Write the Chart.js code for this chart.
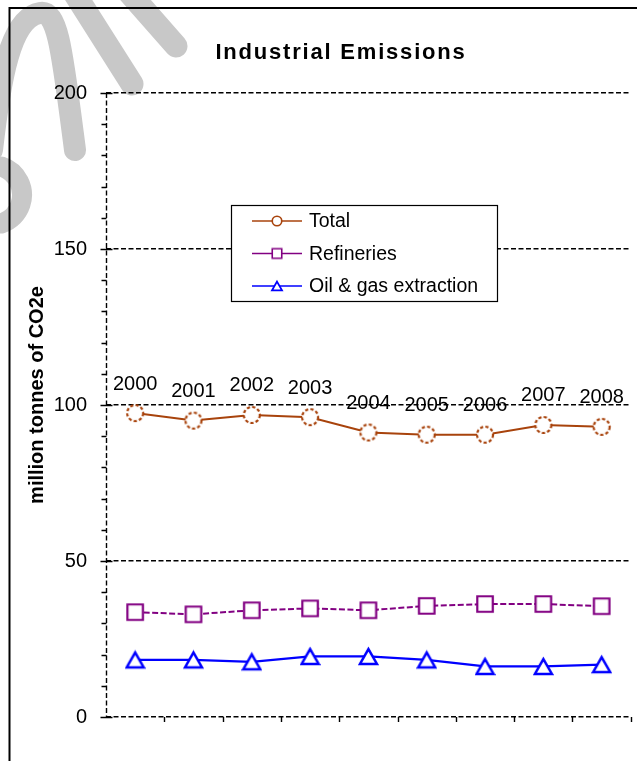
<!DOCTYPE html>
<html>
<head>
<meta charset="utf-8">
<title>Industrial Emissions</title>
<script src="https://cdn.jsdelivr.net/npm/chart.js@4/dist/chart.umd.min.js"></script>
<style>
  html, body { margin: 0; padding: 0; background: #ffffff; }
  #wrap { width: 637px; height: 761px; position: relative; }
</style>
</head>
<body>
<div id="wrap"><canvas id="chart" width="637" height="761"></canvas></div>
<script>
// Years shown along the series
const categories = ['2000', '2001', '2002', '2003', '2004', '2005', '2006', '2007', '2008'];

// Emissions, million tonnes of CO2e
const totalValues      = [97.4, 95.0, 96.8, 96.1, 91.2, 90.5, 90.5, 93.6, 93.0];
const refineryValues   = [33.6, 32.9, 34.2, 34.8, 34.2, 35.6, 36.2, 36.2, 35.5];
const extractionValues = [18.3, 18.3, 17.7, 19.4, 19.4, 18.3, 16.2, 16.2, 16.8];

// Value axis
const yTicks = [0, 50, 100, 150, 200];
const yMinorStep = 10;

const seriesNames = ['Total', 'Refineries', 'Oil & gas extraction'];
const FONT = '"Liberation Sans", Arial, Helvetica, sans-serif';

const COLOR_TOTAL = '#a8430c';
const COLOR_REF = '#820082';
const COLOR_OIL = '#0000ff';

// Marker images (centred on their bounding box)
function makeMarker(kind, size, color, opts) {
  opts = opts || {};
  const c = document.createElement('canvas');
  const w = Math.ceil(size + 4), h = Math.ceil(size + 4);
  c.width = w; c.height = h;
  const g = c.getContext('2d');
  g.lineWidth = opts.lineWidth || 2;
  g.strokeStyle = color;
  g.fillStyle = '#ffffff';
  if (opts.dash) g.setLineDash(opts.dash);
  g.beginPath();
  const cx = w / 2, cy = h / 2, r = size / 2;
  if (kind === 'circle') {
    g.arc(cx, cy, r, 0, Math.PI * 2);
  } else if (kind === 'square') {
    g.rect(cx - r, cy - r, size, size);
  } else {
    const th = size * 0.88;
    g.moveTo(cx, cy - th / 2);
    g.lineTo(cx + r, cy + th / 2);
    g.lineTo(cx - r, cy + th / 2);
    g.closePath();
  }
  g.fill();
  g.stroke();
  return c;
}

const markTotal = makeMarker('circle', 16, COLOR_TOTAL, { dash: [3.2, 2.2], lineWidth: 2.2 });
const markRef = makeMarker('square', 15.5, COLOR_REF, { lineWidth: 2.2 });
const markOil = makeMarker('triangle', 17, COLOR_OIL, { lineWidth: 2.5 });

const legendMarks = [
  makeMarker('circle', 9.5, COLOR_TOTAL, { lineWidth: 1.6 }),
  makeMarker('square', 9.5, COLOR_REF, { lineWidth: 1.6 }),
  makeMarker('triangle', 10, COLOR_OIL, { lineWidth: 1.8 })
];
const legendColors = [COLOR_TOTAL, COLOR_REF, COLOR_OIL];

// Background and the light grey strokes behind the chart
const backdrop = {
  id: 'backdrop',
  beforeDraw(chart) {
    const ctx = chart.ctx;
    ctx.save();
    ctx.fillStyle = '#ffffff';
    ctx.fillRect(0, 0, chart.width, chart.height);
    ctx.strokeStyle = '#c8c8c8';
    ctx.lineCap = 'round';
    ctx.lineJoin = 'round';
    ctx.lineWidth = 22;
    ctx.beginPath();
    ctx.moveTo(-8, 150);
    ctx.bezierCurveTo(0, 80, 10, 18, 40, 13);
    ctx.bezierCurveTo(58, 10, 62, 50, 75, 150);
    ctx.stroke();
    ctx.lineWidth = 23;
    ctx.beginPath();
    ctx.moveTo(66, -20);
    ctx.lineTo(132, 84);
    ctx.stroke();
    ctx.beginPath();
    ctx.moveTo(118, -20);
    ctx.lineTo(176, 46);
    ctx.stroke();
    ctx.lineWidth = 20;
    ctx.beginPath();
    ctx.arc(-8, 195, 30, -1.25, 1.25);
    ctx.stroke();
    ctx.restore();
  }
};

// Dashed value axis, major/minor tick marks and category separators
const axisMarks = {
  id: 'axisMarks',
  beforeDatasetsDraw(chart) {
    const ctx = chart.ctx;
    const y = chart.scales.y, x = chart.scales.x;
    const left = Math.round(chart.chartArea.left) + 0.5;
    const top = y.getPixelForValue(yTicks[yTicks.length - 1]);
    const bottom = y.getPixelForValue(yTicks[0]);
    ctx.save();
    ctx.strokeStyle = '#000000';
    ctx.lineWidth = 1.4;
    ctx.setLineDash([5, 2.5]);
    ctx.beginPath();
    ctx.moveTo(left, top);
    ctx.lineTo(left, bottom);
    ctx.stroke();
    ctx.setLineDash([]);
    ctx.beginPath();
    for (let v = yTicks[0]; v <= yTicks[yTicks.length - 1]; v += yMinorStep) {
      const py = Math.round(y.getPixelForValue(v)) + 0.5;
      if (yTicks.includes(v)) {
        ctx.moveTo(left - 6, py);
        ctx.lineTo(left + 6, py);
      } else {
        ctx.moveTo(left - 5, py);
        ctx.lineTo(left, py);
      }
    }
    for (let i = 1; i <= categories.length; i++) {
      const px = Math.round(x.getPixelForValue(i - 0.5)) + 0.5;
      ctx.moveTo(px, bottom);
      ctx.lineTo(px, bottom + 5);
    }
    ctx.stroke();
    ctx.restore();
  },
  afterDatasetsDraw(chart) {
    // year labels above the Total series
    const ctx = chart.ctx;
    const meta = chart.getDatasetMeta(0);
    ctx.save();
    ctx.font = '20px ' + FONT;
    ctx.fillStyle = '#000000';
    ctx.textAlign = 'center';
    ctx.textBaseline = 'middle';
    meta.data.forEach((pt, i) => {
      ctx.fillText(categories[i], pt.x, pt.y - 29);
    });
    ctx.restore();
  },
  afterDraw(chart) {
    const ctx = chart.ctx;
    ctx.save();
    // title
    ctx.fillStyle = '#000000';
    ctx.font = 'bold 22px ' + FONT;
    ctx.textAlign = 'center';
    ctx.textBaseline = 'middle';
    if ('letterSpacing' in ctx) ctx.letterSpacing = '1.8px';
    ctx.fillText('Industrial Emissions', 341, 53);
    if ('letterSpacing' in ctx) ctx.letterSpacing = '0px';
    // value axis title
    ctx.save();
    ctx.translate(43, 395);
    ctx.rotate(-Math.PI / 2);
    ctx.font = 'bold 20px ' + FONT;
    ctx.textAlign = 'center';
    ctx.textBaseline = 'alphabetic';
    ctx.fillText('million tonnes of CO2e', 0, 0);
    ctx.restore();
    // outer frame
    ctx.strokeStyle = '#000000';
    ctx.lineWidth = 2;
    ctx.beginPath();
    ctx.moveTo(9.5, chart.height + 2);
    ctx.lineTo(9.5, 8);
    ctx.lineTo(chart.width + 2, 8);
    ctx.stroke();
    // legend
    const bx = 231.5, by = 205.5, bw = 266, bh = 96;
    ctx.fillStyle = '#ffffff';
    ctx.fillRect(bx, by, bw, bh);
    ctx.lineWidth = 1.2;
    ctx.strokeRect(bx, by, bw, bh);
    ctx.font = '19.5px ' + FONT;
    ctx.textAlign = 'left';
    ctx.textBaseline = 'middle';
    chart.data.datasets.forEach((ds, i) => {
      const ry = 221 + i * 32.5;
      ctx.strokeStyle = legendColors[i];
      ctx.lineWidth = 1.6;
      ctx.beginPath();
      ctx.moveTo(252, ry);
      ctx.lineTo(302, ry);
      ctx.stroke();
      const m = legendMarks[i];
      ctx.drawImage(m, 277 - m.width / 2, ry - m.height / 2);
      ctx.fillStyle = '#000000';
      ctx.fillText(ds.label, 309, ry + 1);
    });
    ctx.restore();
  }
};

new Chart(document.getElementById('chart'), {
  type: 'line',
  data: {
    labels: categories,
    datasets: [
      {
        label: seriesNames[0],
        data: totalValues,
        borderColor: COLOR_TOTAL,
        borderWidth: 2,
        pointStyle: markTotal,
        tension: 0
      },
      {
        label: seriesNames[1],
        data: refineryValues,
        borderColor: COLOR_REF,
        borderWidth: 2,
        borderDash: [6, 2.5],
        pointStyle: markRef,
        tension: 0
      },
      {
        label: seriesNames[2],
        data: extractionValues,
        borderColor: COLOR_OIL,
        borderWidth: 2.2,
        pointStyle: markOil,
        tension: 0
      }
    ]
  },
  options: {
    responsive: false,
    animation: false,
    devicePixelRatio: 1,
    clip: false,
    layout: { padding: { top: 93, right: 5, left: 0, bottom: 0 } },
    plugins: {
      legend: { display: false },
      tooltip: { enabled: false },
      title: { display: false }
    },
    scales: {
      x: {
        type: 'category',
        offset: true,
        grid: { display: false },
        border: { display: false },
        ticks: { display: false },
        afterFit(s) { s.height = 44; }
      },
      y: {
        min: yTicks[0],
        max: yTicks[yTicks.length - 1],
        afterBuildTicks(s) { s.ticks = yTicks.map(v => ({ value: v })); },
        grid: { color: '#000000', lineWidth: 1.4, drawTicks: false },
        border: { display: false, dash: [5, 2.5] },
        ticks: {
          padding: 19,
          color: '#000000',
          font: { family: FONT, size: 20 }
        },
        afterFit(s) { s.width = 106; }
      }
    }
  },
  plugins: [backdrop, axisMarks]
});
</script>
</body>
</html>
